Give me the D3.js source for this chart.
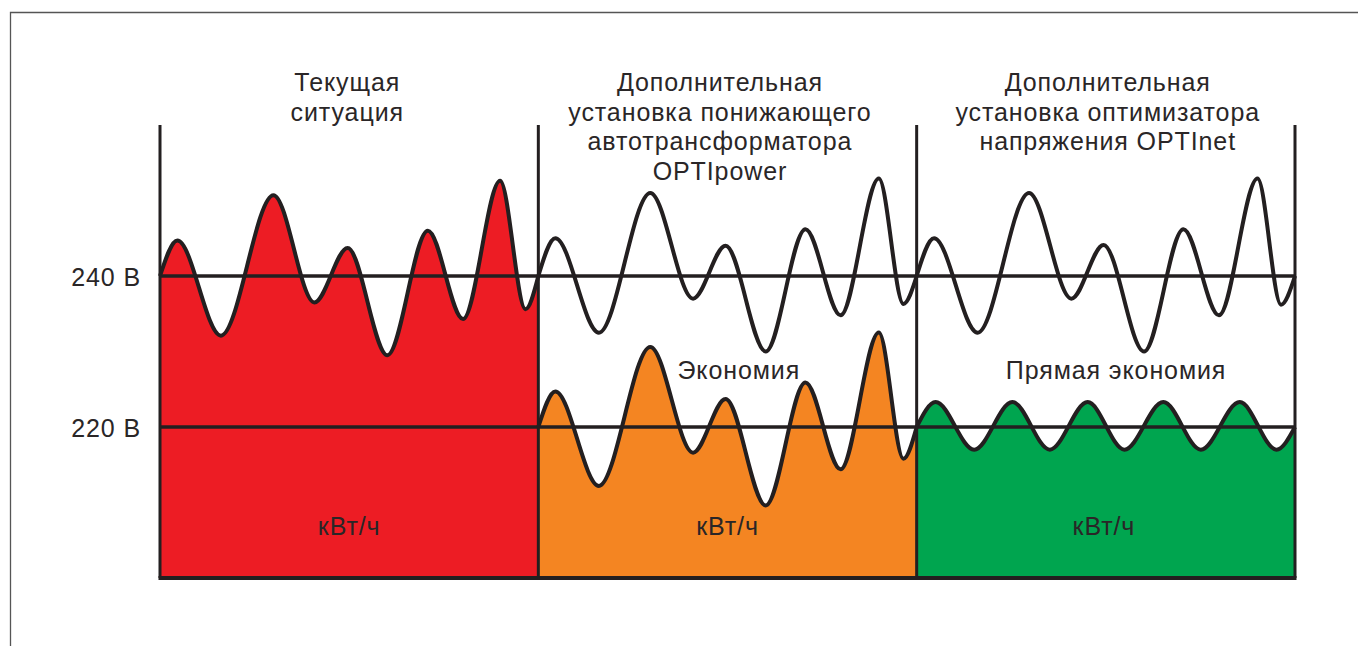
<!DOCTYPE html>
<html>
<head>
<meta charset="utf-8">
<script src="https://cdn.jsdelivr.net/npm/d3@7/dist/d3.min.js"></script>
<style>
  html, body { margin: 0; padding: 0; background: #fff; }
  svg { display: block; }
  text { font-family: "Liberation Sans", Arial, sans-serif; fill: #2a2627; letter-spacing: 0.9px; }
</style>
</head>
<body>
<svg id="chart" width="1358" height="646"></svg>
<script>
// ---------- data ----------
const panelTitles = [
  ["Текущая", "ситуация"],
  ["Дополнительная", "установка понижающего", "автотрансформатора", "OPTIpower"],
  ["Дополнительная", "установка оптимизатора", "напряжения OPTInet"]
];
const panelTitleCenters = [0.495, 1.48, 2.505];   // in panel time units
const unitLabel = "кВт/ч";
const unitCenters = [0.5, 1.5, 2.495];
const savingLabels = ["Экономия", "Прямая экономия"];
const savingCenters = [1.53, 2.527];
const savingLevel = 227.5;
const yTickValues = [220, 240];
const yTickLabels = ["220 В", "240 В"];

// time (panel units) and voltage for each curve
const redT  = [0, 0.046, 0.161, 0.300, 0.408, 0.496, 0.601, 0.708, 0.801, 0.899, 0.966, 1.0];
const redV  = [240, 244.7, 232.1, 250.7, 236.5, 243.7, 229.5, 246.0, 234.3, 252.6, 235.6, 240];

const top2T = [1.0, 1.045, 1.160, 1.296, 1.409, 1.495, 1.601, 1.706, 1.799, 1.900, 1.965, 2.0];
const top2V = [240, 245.0, 232.5, 251.0, 237.0, 244.0, 230.0, 246.2, 234.8, 252.9, 236.3, 240];

const orangeT = [1.0, 1.045, 1.160, 1.296, 1.409, 1.495, 1.601, 1.706, 1.799, 1.900, 1.965, 2.0];
const orangeV = [220, 224.7, 212.2, 230.6, 216.6, 223.7, 209.6, 225.9, 214.4, 232.5, 215.8, 220];

const top3T = [2.0, 2.046, 2.161, 2.297, 2.409, 2.494, 2.601, 2.705, 2.799, 2.901, 2.963, 3.0];
const top3V = [240, 245.0, 232.5, 251.0, 237.0, 244.1, 230.0, 246.2, 234.8, 252.9, 236.2, 240];

const greenT = [2.0, 2.050, 2.152, 2.253, 2.352, 2.452, 2.549, 2.652, 2.751, 2.854, 2.951, 3.0];
const greenV = [220, 223.3, 217.0, 223.3, 217.0, 223.3, 217.0, 223.3, 217.0, 223.3, 217.0, 220];

const panelBounds = [0, 1, 2, 3];

// ---------- layout ----------
const svg = d3.select("#chart");
const x = d3.scaleLinear().domain([0, 3]).range([160, 1295]);
const y = d3.scaleLinear().domain([200, 260]).range([578, 125]);
const ink = "#231f20";

// outer frame (top + left)
svg.append("path")
  .attr("d", "M10.5,646 L10.5,12.5 L1358,12.5")
  .attr("fill", "none").attr("stroke", "#555").attr("stroke-width", 1.3);

const zip = (T, V) => T.map((t, i) => ({ t, v: V[i] }));
const line = d3.line().x(d => x(d.t)).y(d => y(d.v)).curve(d3.curveMonotoneX);
const area = d3.area().x(d => x(d.t)).y0(y(200)).y1(d => y(d.v)).curve(d3.curveMonotoneX);

const fills = [
  { data: zip(redT, redV), color: "#ed1c24" },
  { data: zip(orangeT, orangeV), color: "#f48522" },
  { data: zip(greenT, greenV), color: "#00a54f" }
];
fills.forEach(f => {
  svg.append("path").attr("d", area(f.data)).attr("fill", f.color);
});

// waves
[zip(redT, redV), zip(top2T, top2V), zip(orangeT, orangeV), zip(top3T, top3V), zip(greenT, greenV)]
  .forEach(d => {
    svg.append("path").attr("d", line(d))
      .attr("fill", "none").attr("stroke", ink).attr("stroke-width", 4)
      .attr("stroke-linejoin", "round");
  });

// reference lines
yTickValues.forEach(v => {
  svg.append("line")
    .attr("x1", x(0)).attr("x2", x(3))
    .attr("y1", y(v)).attr("y2", y(v))
    .attr("stroke", ink).attr("stroke-width", 3.5);
});

// panel separators
panelBounds.forEach(b => {
  svg.append("line")
    .attr("x1", x(b)).attr("x2", x(b))
    .attr("y1", y(260)).attr("y2", y(200))
    .attr("stroke", ink).attr("stroke-width", 3);
});
// bottom baseline
svg.append("line")
  .attr("x1", x(0) - 1.5).attr("x2", x(3) + 1.5)
  .attr("y1", y(200)).attr("y2", y(200))
  .attr("stroke", ink).attr("stroke-width", 4);

// y axis labels
const yAxis = d3.axisLeft(y).tickValues(yTickValues).tickSize(0).tickPadding(19)
  .tickFormat((d, i) => yTickLabels[i]);
const ga = svg.append("g").attr("transform", `translate(${x(0)},0)`).call(yAxis);
ga.select(".domain").remove();
ga.selectAll("text").attr("font-size", 25).attr("font-family", null)
  .attr("fill", "#2a2627").attr("dy", "0.36em");

// titles
panelTitles.forEach((lines, i) => {
  const t = svg.append("text").attr("text-anchor", "middle").attr("font-size", 25);
  lines.forEach((s, j) => {
    t.append("tspan").attr("x", x(panelTitleCenters[i])).attr("y", 91 + j * 29.5).text(s);
  });
});

// saving labels
savingLabels.forEach((s, i) => {
  svg.append("text").attr("text-anchor", "middle").attr("font-size", 25)
    .attr("x", x(savingCenters[i])).attr("y", y(savingLevel) + 9).text(s);
});

// unit labels
unitCenters.forEach(c => {
  svg.append("text").attr("text-anchor", "middle").attr("font-size", 25)
    .attr("x", x(c)).attr("y", 535).text(unitLabel);
});
</script>
</body>
</html>
